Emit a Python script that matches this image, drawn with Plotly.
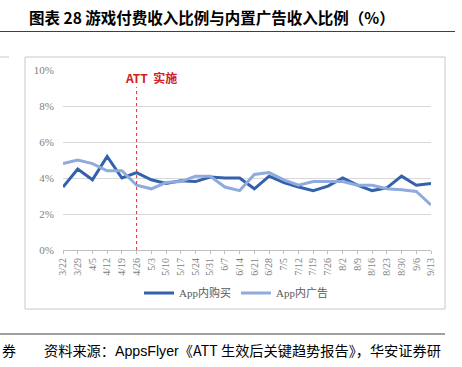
import plotly.graph_objects as go

categories = ["3/22", "3/29", "4/5", "4/12", "4/19", "4/26", "5/3", "5/10", "5/17",
              "5/24", "5/31", "6/7", "6/14", "6/21", "6/28", "7/5", "7/12", "7/19",
              "7/26", "8/2", "8/9", "8/16", "8/23", "8/30", "9/6", "9/13"]
iap_share = [3.5, 4.5, 3.9, 5.2, 4.0, 4.3, 3.9, 3.7, 3.85, 3.8, 4.05, 4.0, 4.0,
             3.4, 4.1, 3.75, 3.5, 3.3, 3.55, 4.0, 3.6, 3.3, 3.45, 4.1, 3.6, 3.7]
ad_share = [4.8, 5.0, 4.8, 4.4, 4.4, 3.6, 3.4, 3.75, 3.8, 4.1, 4.1, 3.5, 3.3,
            4.2, 4.3, 3.9, 3.6, 3.8, 3.8, 3.8, 3.6, 3.6, 3.4, 3.35, 3.25, 2.5]
series_names = ["App内购买", "App内广告"]
y_ticks = [0, 2, 4, 6, 8, 10]
att_category = "4/26"
att_label = "ATT  实施"

W, H = 462, 367
L, R, T, B = 63, 31, 70, 117
pw, ph = W - L - R, H - T - B


def px(x):
    return (x - L) / pw


def py(y):
    return (H - B - y) / ph


serif = "Liberation Serif, Noto Sans CJK SC, serif"
cjk = "Noto Sans CJK SC, sans-serif"

fig = go.Figure()
fig.add_trace(go.Scatter(x=categories, y=iap_share, mode="lines", name=series_names[0],
                         line=dict(color="#3461AB", width=3)))
fig.add_trace(go.Scatter(x=categories, y=ad_share, mode="lines", name=series_names[1],
                         line=dict(color="#8FAADC", width=3)))

att_idx = categories.index(att_category)
shapes = [
    dict(type="rect", xref="paper", yref="paper", x0=px(25), x1=px(445), y0=py(309), y1=py(57),
         line=dict(color="#C8C8C8", width=1), layer="below"),
    dict(type="line", xref="paper", yref="paper", x0=px(0), x1=px(455), y0=py(31.5), y1=py(31.5),
         line=dict(color="#404040", width=1.2)),
    dict(type="line", xref="paper", yref="paper", x0=px(0), x1=px(9), y0=py(57), y1=py(57),
         line=dict(color="#C8C8C8", width=1)),
    dict(type="line", xref="paper", yref="paper", x0=px(0), x1=px(445), y0=py(334), y1=py(334),
         line=dict(color="#404040", width=1.2)),
    dict(type="line", xref="x", yref="y", x0=att_idx, x1=att_idx, y0=0, y1=9.05,
         line=dict(color="#E03030", width=1, dash="dot")),
]

annotations = [
    dict(xref="paper", yref="paper", x=px(27), y=py(17), xanchor="left", yanchor="middle",
         text="<b>图表 28 游戏付费收入比例与内置广告收入比例（%）</b>", showarrow=False,
         font=dict(family=cjk, size=15.5, color="#000000")),
    dict(xref="paper", yref="paper", x=px(151), y=py(77), xanchor="center", yanchor="middle",
         text="<b>" + att_label + "</b>", showarrow=False,
         font=dict(family=cjk, size=12, color="#D02020")),
    dict(xref="paper", yref="paper", x=px(0), y=py(350), xanchor="left", yanchor="middle",
         text="券", showarrow=False, font=dict(family=cjk, size=14, color="#000000")),
    dict(xref="paper", yref="paper", x=px(42), y=py(350), xanchor="left", yanchor="middle",
         text="资料来源：<span style='font-family:Liberation Sans'>AppsFlyer</span>《ATT 生效后关键趋势报告》，华安证券研",
         showarrow=False, font=dict(family=cjk, size=14.2, color="#000000")),
]

fig.update_layout(
    width=W, height=H,
    margin=dict(l=L, r=R, t=T, b=B, autoexpand=False),
    paper_bgcolor="white", plot_bgcolor="white",
    shapes=shapes, annotations=annotations,
    showlegend=True,
    legend=dict(orientation="h", x=px(236), xanchor="center", y=py(293), yanchor="middle",
                font=dict(family=serif, size=11, color="#595959"), itemwidth=30,
                bgcolor="rgba(0,0,0,0)"),
    xaxis=dict(type="category", categoryorder="array", categoryarray=categories,
               range=[0, len(categories) - 1], tickangle=-90, automargin=False,
               tickfont=dict(family=serif, size=10, color="#7F7F7F"),
               showgrid=False, showline=True, linecolor="#BFBFBF", linewidth=1,
               ticks="outside", ticklen=3, tickcolor="#BFBFBF", zeroline=False),
    yaxis=dict(range=[0, 10], tickvals=y_ticks, ticktext=[f"{v}%" for v in y_ticks],
               automargin=False,
               tickfont=dict(family=serif, size=11, color="#7F7F7F"),
               showgrid=True, gridcolor="#D9D9D9", gridwidth=1, zeroline=False,
               showline=False, ticks="", ticklabelstandoff=8),
)

fig.write_html("out.html", config={"displayModeBar": False},
               post_script="document.body.style.margin='0';document.body.style.overflow='hidden';")
